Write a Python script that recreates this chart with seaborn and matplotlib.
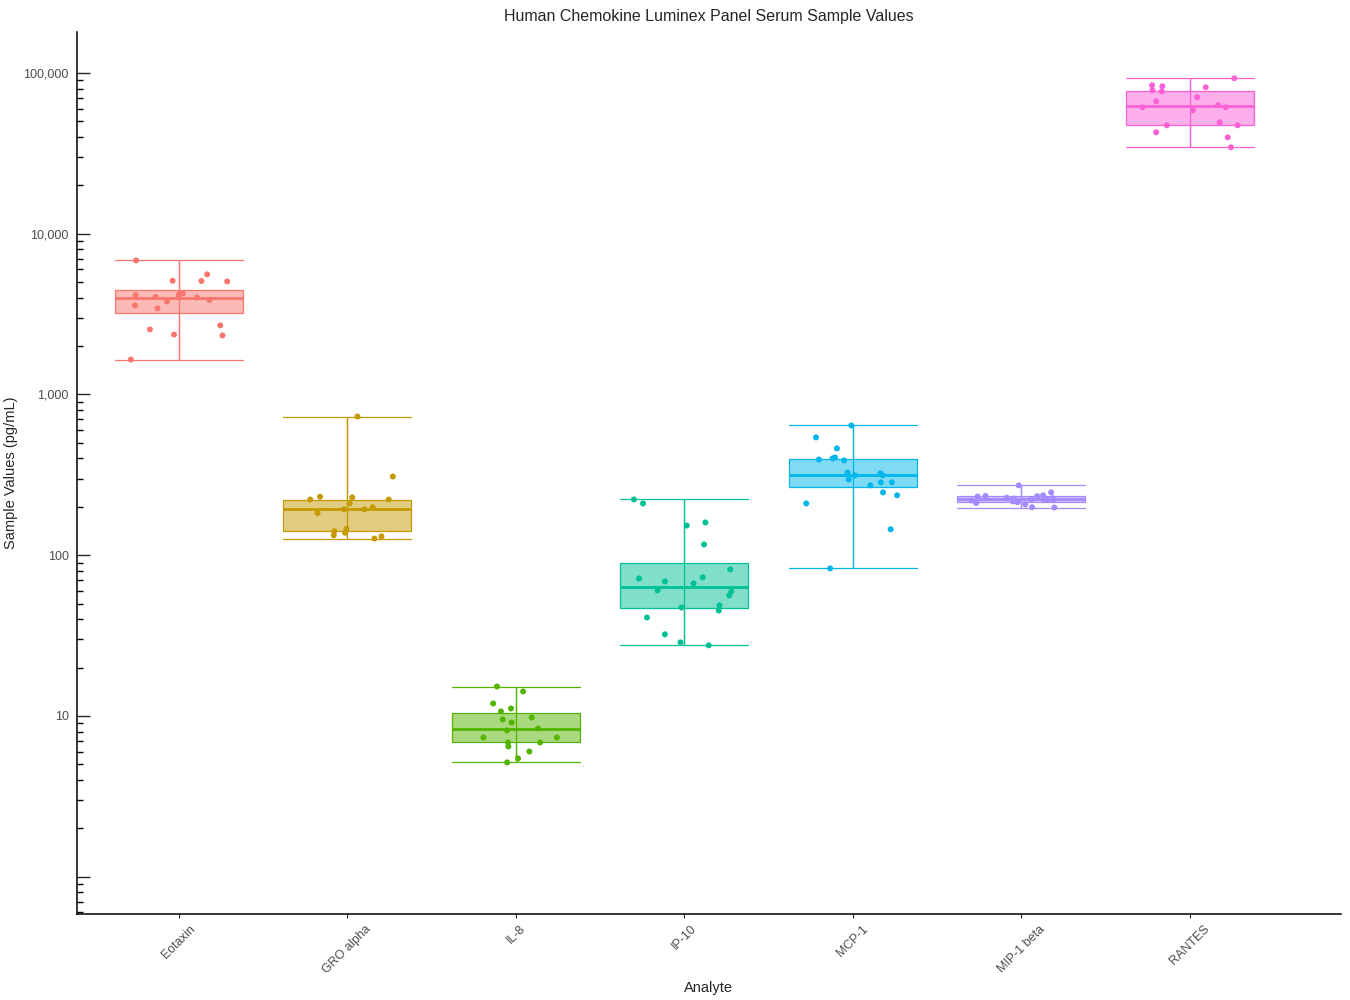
import numpy as np
import pandas as pd
import matplotlib
matplotlib.use("Agg")
import matplotlib.pyplot as plt
import matplotlib.ticker as mticker
from matplotlib.colors import to_rgba
import seaborn as sns

analytes = ["Eotaxin", "GRO alpha", "IL-8", "IP-10", "MCP-1", "MIP-1 beta", "RANTES"]
colors = ["#F8766D", "#C49A00", "#53B400", "#00C094", "#00B6EB", "#A58AFF", "#FB61D7"]

eotaxin = [6830, 5590, 5100, 5080, 5050, 4260, 4210, 4150, 4040, 4010,
           4010, 3880, 3800, 3580, 3430, 2690, 2540, 2360, 2330, 1650]
gro_alpha = [729, 309, 231, 229, 222, 222, 210, 199, 193, 193,
             183, 146, 141, 138, 133, 131, 127]
il8 = [15.25, 14.2, 11.96, 11.13, 10.67, 9.79, 9.51, 9.11, 8.36, 8.13,
       7.35, 7.35, 6.84, 6.84, 6.46, 6.01, 5.44, 5.14]
ip10 = [222.4, 210, 160, 153, 116.7, 81.6, 72.8, 71.7, 68.7, 66.8,
        60.4, 59.5, 56.2, 48.7, 47.3, 45.3, 41.0, 32.2, 28.7, 27.5]
mcp1 = [642, 541, 462, 406, 400, 394, 389, 327, 323, 314,
        314, 296, 284, 284, 272, 246, 236, 210, 145, 82.8]
mip1b = [272, 246, 236, 234, 233, 232, 228, 226, 225, 223,
         222, 222, 221, 219, 216, 214, 211, 207, 199, 198]
rantes = [92700, 83900, 82700, 81500, 78000, 76900, 70600, 66700, 63000, 61200,
          61200, 58600, 49400, 47300, 47300, 42800, 39800, 34500]

series = [eotaxin, gro_alpha, il8, ip10, mcp1, mip1b, rantes]
df = pd.DataFrame({
    "Analyte": [a for a, s in zip(analytes, series) for _ in s],
    "Value": [v for s in series for v in s],
})

ytick_vals = [1, 10, 100, 1000, 10000, 100000]
ytick_labels = ["", "10", "100", "1,000", "10,000", "100,000"]
decades = [0.1, 1, 10, 100, 1000, 10000, 100000]

sns.set_style("ticks")
plt.rcParams["font.family"] = ["Liberation Sans", "DejaVu Sans"]

fig = plt.figure(figsize=(13.5, 10), dpi=100)
ax = fig.add_axes([0.057, 0.086, 0.936, 0.882])
ax.set_yscale("log")

box_w = 0.76
for a, c in zip(analytes, colors):
    sub = df[df["Analyte"] == a]
    sns.boxplot(data=sub, x="Analyte", y="Value", order=analytes, color=c,
                linecolor=c, saturation=1, width=box_w, whis=(0, 100),
                capwidths=box_w, linewidth=0.9, showfliers=False,
                medianprops={"linewidth": 2.0}, ax=ax)
    ax.patches[-1].set_facecolor(to_rgba(c, 0.5))

# whisker line running through the whole box, min to max
stats = df.groupby("Analyte", sort=False)["Value"].agg(["min", "max"]).reindex(analytes)
ax.vlines(np.arange(len(analytes)), stats["min"], stats["max"], colors=colors,
          linewidth=0.9, zorder=1.5)

np.random.seed(7)
sns.stripplot(data=df, x="Analyte", y="Value", order=analytes, hue="Analyte",
              hue_order=analytes, palette=colors, jitter=0.3, size=4.3,
              linewidth=0, legend=False, ax=ax, zorder=3)

ax.set_xlim(-0.605, 6.896)
ax.set_ylim(0.586, 180000)
ax.yaxis.set_major_locator(mticker.FixedLocator(ytick_vals))
ax.yaxis.set_major_formatter(mticker.FixedFormatter(ytick_labels))
minor_vals = [m * d for d in decades for m in range(2, 10)]
ax.yaxis.set_minor_locator(mticker.FixedLocator(minor_vals))
ax.yaxis.set_minor_formatter(mticker.NullFormatter())
ax.tick_params(axis="y", which="major", direction="in", length=9, width=1,
               labelsize=9, labelcolor="#4D4D4D", pad=6)
ax.tick_params(axis="y", which="minor", direction="in", length=4, width=1,
               left=True, color="black")
ax.tick_params(axis="x", direction="out", length=3, width=0.8,
               labelsize=9, labelcolor="#4D4D4D")
ax.tick_params(axis="x", which="minor", bottom=False)
plt.setp(ax.get_xticklabels(), rotation=45, ha="center")

for side in ["top", "right"]:
    ax.spines[side].set_visible(False)
for side in ["left", "bottom"]:
    ax.spines[side].set_linewidth(1.1)
    ax.spines[side].set_color("black")

ax.set_title("Human Chemokine Luminex Panel Serum Sample Values", fontsize=11.5, pad=8)
ax.set_xlabel("Analyte", fontsize=10.5)
ax.set_ylabel("Sample Values (pg/mL)", fontsize=10.5)

fig.savefig("out.png", dpi=100)
